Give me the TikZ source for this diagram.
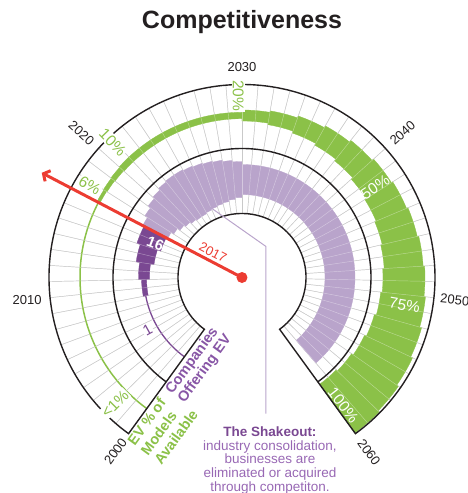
\documentclass[tikz,border=0pt]{standalone}
\usepackage{fontspec}
\setmainfont{Liberation Sans}
\usepackage{tikz}
\usetikzlibrary{arrows.meta, calc, positioning}

\definecolor{evgreen}{RGB}{139,193,72}
\definecolor{lavender}{RGB}{185,164,203}
\definecolor{darkpurple}{RGB}{122,72,146}
\definecolor{purpletext}{RGB}{136,86,166}
\definecolor{shaketext}{RGB}{152,104,180}
\definecolor{redline}{RGB}{236,60,50}
\definecolor{inkblack}{RGB}{35,31,32}

%% ring segment: colour, from year, to year, mid radius, half width
\newcommand{\bandbar}[5]{%
  \pgfmathsetmacro{\angA}{234-4.8*(#2-2000)}%
  \pgfmathsetmacro{\angB}{234-4.8*(#3-2000)}%
  \pgfmathsetmacro{\radA}{#4-#5}%
  \pgfmathsetmacro{\radB}{#4+#5}%
  \filldraw[#1, line width=0.3pt] (\angA:\radA) arc[start angle=\angA, end angle=\angB, radius=\radA]
    -- (\angB:\radB) arc[start angle=\angB, end angle=\angA, radius=\radB] -- cycle;}

\begin{document}
\begin{tikzpicture}[x=1pt, y=1pt,
    rim/.style={draw=inkblack, line width=1.4pt},
    gridline/.style={draw=gray!70, line width=0.45pt},
    gridlight/.style={draw=white, opacity=0.4, line width=0.45pt},
    yearlbl/.style={text=inkblack, font=\fontsize{13}{13}\selectfont, inner sep=1pt},
    pct/.style={text=evgreen, fill=white, font=\fontsize{15.5}{15.5}\selectfont, inner sep=1pt},
    pctw/.style={text=white, font=\fontsize{15.5}{15.5}\selectfont, inner sep=1pt},
    grp/.style={font=\bfseries\fontsize{14.5}{15}\selectfont, align=left, inner sep=0pt, anchor=west, rotate=54}]
  \useasboundingbox (-242,-215.5) rectangle (226,277.5);

  %% title
  \node[font=\bfseries\fontsize{25}{25}\selectfont, text=inkblack, anchor=base] (T1) at (0,249) {Competitiveness};

  %% year grid (under the bars)
  \foreach \y in {2001,...,2059} {
    \pgfmathsetmacro{\ang}{234-4.8*(\y-2000)}
    \draw[gridline] (\ang:64) -- (\ang:193);
  }

  %% companies offering EV
  \draw[darkpurple, line width=1.3pt] (234:98) arc[start angle=234, end angle=190.8, radius=98];
  \foreach \y/\h in {2009/2.5, 2011/5.5, 2013/9, 2015/12.5}
    {\bandbar{darkpurple}{\y}{\y+2}{98}{\h}}
  \foreach \y/\h in {2017/14, 2018/17, 2019/20, 2020/22, 2021/24, 2022/25, 2023/25,
                     2024/24, 2025/23, 2026/22, 2027/21, 2028/19.5, 2029/18}
    {\bandbar{lavender}{\y}{\y+1}{98}{\h}}
  \bandbar{lavender}{2030}{2059}{98}{15}

  %% EV share of models
  \draw[evgreen, line width=1.5pt] (234:162) arc[start angle=234, end angle=152.4, radius=162];
  \foreach \y/\h in {2017/1.6, 2018/2.1, 2019/2.6}
    {\bandbar{evgreen}{\y}{\y+1}{162}{\h}}
  \bandbar{evgreen}{2020}{2030}{162}{3.2}
  \foreach \y/\h in {2030/5.5, 2032/7, 2034/9, 2036/11, 2038/13, 2040/15, 2042/16.5,
                     2044/18, 2046/19.5, 2048/21, 2050/22.5, 2052/24.5, 2054/26.5, 2056/28.5, 2058/30}
    {\bandbar{evgreen}{\y}{\y+2}{162}{\h}}

  %% light grid over the bars
  \foreach \y in {2001,...,2059} {
    \pgfmathsetmacro{\ang}{234-4.8*(\y-2000)}
    \draw[gridlight] (\ang:64) -- (\ang:193);
  }

  %% rings
  \draw[rim, line join=miter] (234:64) -- (234:193) arc[start angle=234, end angle=-54, radius=193]
    -- (-54:64) arc[start angle=-54, end angle=234, radius=64] -- cycle;
  \draw[rim] (234:129) arc[start angle=234, end angle=-54, radius=129];

  %% years
  \node[yearlbl, rotate=54] (Y0) at (234:215) {2000};
  \node[yearlbl] (Y1) at (186:216) {2010};
  \node[yearlbl, rotate=-42] (Y2) at (138:216) {2020};
  \node[yearlbl] (Y3) at (90:210) {2030};
  \node[yearlbl, rotate=42] (Y4) at (42:216) {2040};
  \node[yearlbl, rotate=-6] (Y5) at (-6:214) {2050};
  \node[yearlbl, rotate=-54] (Y6) at (-54:216) {2060};

  %% percentages
  \node[pct, rotate=45] (P0) at (224.8:179) {<1\%};
  \node[pct, rotate=-31] (P1) at (148.8:178) {6\%};
  \node[pct, rotate=-46] (P2) at (133.7:187) {10\%};
  \node[pct, rotate=-90] (P3) at (91.2:182) {20\%};
  \node[pctw, rotate=34] (P4) at (34.2:161) {50\%};
  \node[pctw, rotate=-10] (P5) at (-9.7:165) {75\%};
  \node[pctw, rotate=-52] (P6) at (-51.6:163) {100\%};

  %% company counts
  \node[text=white, font=\bfseries\fontsize{15}{15}\selectfont, rotate=-21, inner sep=0pt] (N16) at (158.7:93) {16};
  \node[text=darkpurple, fill=white, font=\fontsize{15}{15}\selectfont, rotate=29, inner sep=1pt] (N1) at (209:108) {1};

  %% ring titles
  \node[grp, text=purpletext] (G1) at ($(234:136)+(-36:16.5)$) {Companies\\Offering EV};
  \node[grp, text=evgreen, font=\bfseries\fontsize{14.5}{16.5}\selectfont] (G2) at ($(234:200)+(-36:24)$) {EV \% of\\Models\\Available};

  %% shakeout note
  \coordinate (S0) at (117.8:86);
  \coordinate (S1) at (24,31);
  \node[below=180pt of S1, xshift=4pt, inner sep=0pt, align=center, text=shaketext,
        font=\fontsize{13.5}{13.7}\selectfont] (T2)
    {\textbf{\textcolor{darkpurple}{The Shakeout:}}\\industry consolidation,\\businesses are\\eliminated or acquired\\through competiton.};
  \draw[lavender, line width=1pt, shorten >=13pt] (S0) -- (S1) -- (S1 |- T2.north);

  %% now: 2017
  \node[circle, fill=redline, inner sep=0pt, minimum size=11pt] (D0) at (0,0) {};
  \coordinate (D1) at (152.4:226);
  \draw[redline, line width=3pt, -{Straight Barb[length=5pt, width=12pt]}] (D0.center) -- (D1)
    node[pos=0.165, sloped, above=1.5pt, inner sep=1pt, font=\fontsize{13}{13}\selectfont] (L17) {2017};
\end{tikzpicture}
\end{document}
